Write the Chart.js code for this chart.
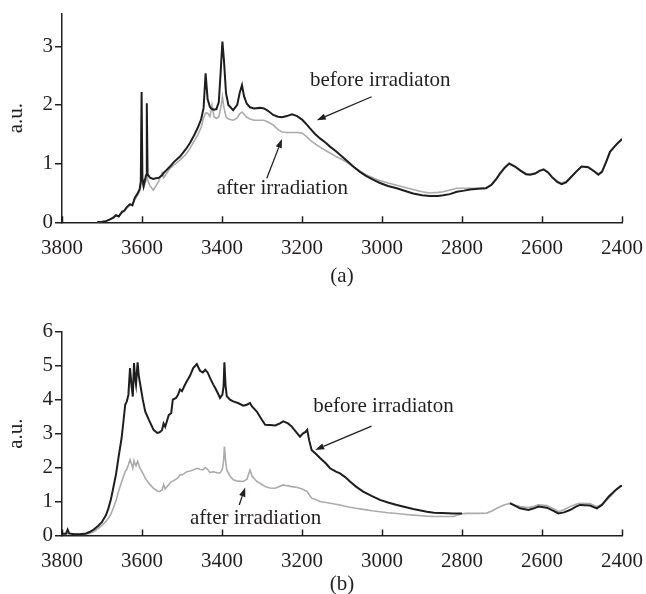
<!DOCTYPE html>
<html><head><meta charset="utf-8">
<script src="https://cdn.jsdelivr.net/npm/chart.js@4"></script>
<style>
html,body{margin:0;padding:0;background:#fff;overflow:hidden;width:646px;height:594px;}
canvas{position:absolute;left:0;}
#chartA{top:0;}
#chartB{top:297px;}
</style></head><body>
<canvas id="chartA" width="646" height="297"></canvas>
<canvas id="chartB" width="646" height="310"></canvas>
<script>
// ---- data ----
const xTicks = [3800,3600,3400,3200,3000,2800,2600,2400];
const yTicksA = [0,1,2,3];
const yTicksB = [0,1,2,3,4,5,6];
const seriesNames = ['before irradiaton','after irradiation'];
const panelLabels = ['(a)','(b)'];
const yTitle = 'a.u.';

const waveA = [
3712,3700,3690,3680,3672,3665,3658,3650,3644,3638,
3630,3624,3618,3612,3606,3603,3601,3599,3596,3590,
3588,3586,3580,3572,3565,3558,3550,3546,3540,3530,
3520,3505,3490,3480,3470,3460,3452,3446,3441,3436,
3430,3425,3420,3414,3408,3403,3399,3395,3390,3384,
3372,3362,3356,3350,3345,3338,3330,3320,3305,3295,
3285,3272,3260,3250,3238,3225,3212,3200,3190,3180,
3168,3155,3140,3130,3115,3100,3085,3072,3055,3040,
3020,3005,2985,2963,2940,2922,2900,2880,2860,2847,
2830,2813,2795,2780,2760,2740,2726,2715,2705,2693,
2682,2668,2654,2640,2630,2617,2605,2596,2585,2575,
2562,2551,2540,2530,2515,2501,2485,2470,2459,2450,
2440,2430,2415,2400];
const beforeA = [
0.00,0.01,0.02,0.05,0.08,0.12,0.10,0.18,0.20,0.26,
0.31,0.29,0.42,0.48,0.56,0.70,2.22,0.75,0.62,0.80,
2.03,0.82,0.76,0.74,0.75,0.76,0.80,0.84,0.88,0.95,
1.03,1.12,1.25,1.35,1.48,1.62,1.76,1.95,2.54,2.10,
1.96,1.93,1.92,1.93,2.05,2.60,3.08,2.75,2.20,2.00,
1.91,2.00,2.20,2.34,2.15,2.02,1.96,1.94,1.95,1.94,
1.90,1.83,1.80,1.79,1.81,1.84,1.81,1.75,1.68,1.60,
1.51,1.43,1.35,1.29,1.21,1.12,1.03,0.95,0.86,0.79,
0.72,0.67,0.62,0.58,0.53,0.49,0.46,0.45,0.45,0.46,
0.48,0.52,0.54,0.56,0.57,0.58,0.64,0.73,0.83,0.93,
1.00,0.95,0.88,0.82,0.81,0.83,0.88,0.90,0.85,0.77,
0.69,0.65,0.68,0.75,0.86,0.95,0.94,0.87,0.81,0.86,
1.02,1.20,1.32,1.42];
const afterA = [
0.00,0.01,0.02,0.05,0.07,0.11,0.11,0.16,0.19,0.24,
0.29,0.30,0.38,0.45,0.53,0.62,1.75,0.68,0.58,0.72,
0.95,0.72,0.62,0.55,0.62,0.70,0.84,0.76,0.82,0.92,
0.98,1.06,1.16,1.26,1.38,1.50,1.62,1.78,1.86,1.86,
1.80,2.00,1.80,1.77,1.80,1.95,2.14,1.95,1.80,1.76,
1.74,1.78,1.85,1.88,1.84,1.79,1.76,1.74,1.74,1.74,
1.71,1.66,1.58,1.54,1.53,1.53,1.53,1.52,1.47,1.40,
1.34,1.28,1.22,1.18,1.12,1.07,1.01,0.95,0.87,0.81,
0.75,0.71,0.67,0.63,0.59,0.56,0.52,0.50,0.51,0.52,
0.55,0.58,0.58,0.58,0.58,0.59,0.65,0.74,0.84,0.94,
1.01,0.96,0.89,0.83,0.82,0.84,0.88,0.91,0.86,0.78,
0.70,0.67,0.70,0.76,0.86,0.95,0.95,0.88,0.83,0.87,
1.03,1.20,1.32,1.42];

const waveB = [
3800,3790,3786,3782,3770,3755,3740,3730,3720,3710,
3700,3690,3684,3678,3672,3665,3659,3651,3646,3642,
3638,3634,3630,3626,3623,3620,3617,3615,3611,3608,
3605,3598,3592,3583,3571,3562,3556,3550,3546,3542,
3533,3527,3523,3515,3510,3505,3500,3495,3488,3480,
3472,3463,3455,3448,3442,3436,3430,3422,3417,3410,
3405,3399,3396,3394,3391,3388,3380,3372,3360,3347,
3338,3330,3325,3313,3300,3292,3280,3267,3255,3247,
3235,3226,3215,3205,3198,3191,3187,3182,3176,3165,
3155,3140,3130,3115,3105,3092,3080,3065,3047,3025,
3005,2985,2963,2940,2922,2900,2888,2870,2850,2822,
2800,2790,2763,2738,2725,2713,2695,2680,2668,2655,
2634,2620,2609,2588,2570,2559,2545,2530,2515,2505,
2480,2463,2450,2433,2415,2405,2400];
const beforeB = [
0.05,0.05,0.17,0.06,0.04,0.04,0.06,0.11,0.18,0.28,
0.40,0.60,0.80,1.05,1.39,1.80,2.28,2.87,3.40,3.85,
3.95,4.14,4.93,4.40,4.09,5.08,4.60,4.44,5.10,4.70,
4.49,4.00,3.65,3.41,3.11,3.02,3.04,3.10,3.30,3.20,
3.55,3.60,4.00,4.05,4.14,4.30,4.25,4.38,4.54,4.70,
4.93,5.05,4.85,4.80,4.88,4.80,4.64,4.45,4.34,4.18,
4.05,4.15,4.40,5.10,4.40,4.10,4.00,3.95,3.90,3.82,
3.85,3.90,3.80,3.65,3.40,3.26,3.25,3.24,3.30,3.36,
3.30,3.21,3.05,2.91,3.00,3.05,3.11,2.80,2.52,2.40,
2.28,2.12,1.98,1.88,1.83,1.72,1.59,1.44,1.29,1.16,
1.05,0.97,0.90,0.83,0.78,0.73,0.70,0.67,0.66,0.65,
0.65,null,null,null,null,null,null,0.95,0.88,0.80,
0.75,0.80,0.85,0.82,0.72,0.65,0.68,0.75,0.85,0.90,
0.88,0.80,0.90,1.15,1.35,1.44,1.47];
const afterB = [
0.05,0.05,0.05,0.05,0.04,0.03,0.04,0.07,0.12,0.20,
0.30,0.42,0.51,0.62,0.80,1.02,1.29,1.58,1.75,1.88,
1.95,2.08,2.23,2.10,1.98,2.20,2.10,2.05,2.18,2.08,
1.98,1.84,1.69,1.54,1.39,1.31,1.29,1.34,1.50,1.37,
1.50,1.58,1.60,1.66,1.70,1.78,1.78,1.82,1.88,1.90,
1.93,1.98,1.95,1.93,2.00,1.95,1.85,1.88,1.86,1.84,
1.84,1.95,2.20,2.62,2.20,1.93,1.75,1.64,1.60,1.59,
1.65,1.93,1.75,1.59,1.50,1.44,1.40,1.39,1.45,1.49,
1.46,1.44,1.42,1.39,1.36,1.32,1.29,1.20,1.10,1.05,
1.00,0.97,0.95,0.92,0.90,0.86,0.83,0.80,0.77,0.73,
0.70,0.67,0.65,0.62,0.60,0.58,0.57,0.56,0.56,0.56,
0.64,0.65,0.65,0.66,0.72,0.80,0.90,0.95,0.90,0.85,
0.82,0.86,0.90,0.88,0.78,0.70,0.76,0.85,0.92,0.95,
0.94,0.85,0.92,1.10,1.33,1.44,1.47];

// annotation anchors in data units (text baseline-left, arrow tail -> head)
const notesA = [
  {text: seriesNames[0], x: 3180, y: 2.32, tail: [3026, 2.14], head: [3163, 1.74]},
  {text: seriesNames[1], x: 3413, y: 0.49, tail: [3288, 0.75], head: [3250, 1.42]}
];
const notesB = [
  {text: seriesNames[0], x: 3172, y: 3.64, tail: [3026, 3.22], head: [3167, 2.52]},
  {text: seriesNames[1], x: 3480, y: 0.34, tail: [3357, 0.90], head: [3342, 1.41]}
];

// ---- styling ----
const INK = '#231f20';
const FONT = '"Liberation Serif", "Times New Roman", serif';

function pts(w, v){ return w.map((x,i)=>({x:x, y:v[i]})); }

const decor = {
  id: 'decor',
  afterDatasetsDraw(chart, args, opts){
    const ctx = chart.ctx, xs = chart.scales.x, ys = chart.scales.y;
    const bottom = chart.chartArea.bottom;
    ctx.save();
    ctx.strokeStyle = INK; ctx.lineWidth = 1.5;
    xs.ticks.forEach(t=>{
      const px = Math.round(xs.getPixelForValue(t.value)) + 0.5;
      ctx.beginPath(); ctx.moveTo(px, bottom); ctx.lineTo(px, bottom - 6); ctx.stroke();
    });
    ctx.fillStyle = INK;
    ctx.font = '21px ' + FONT;
    ctx.textAlign = 'left'; ctx.textBaseline = 'alphabetic';
    (opts.notes||[]).forEach(n=>{
      ctx.fillText(n.text, xs.getPixelForValue(n.x), ys.getPixelForValue(n.y));
      const x0 = xs.getPixelForValue(n.tail[0]), y0 = ys.getPixelForValue(n.tail[1]);
      const x1 = xs.getPixelForValue(n.head[0]), y1 = ys.getPixelForValue(n.head[1]);
      const ang = Math.atan2(y1-y0, x1-x0), L = 9, W = 3.2;
      const bx = x1 - L*Math.cos(ang), by = y1 - L*Math.sin(ang);
      ctx.lineWidth = 1.3;
      ctx.beginPath(); ctx.moveTo(x0,y0); ctx.lineTo(bx,by); ctx.stroke();
      ctx.beginPath();
      ctx.moveTo(x1,y1);
      ctx.lineTo(bx + W*Math.sin(ang), by - W*Math.cos(ang));
      ctx.lineTo(bx - W*Math.sin(ang), by + W*Math.cos(ang));
      ctx.closePath(); ctx.fill();
    });
    ctx.restore();
  }
};

function makeChart(id, wave, before, after, yTicks, yMax, plotTop, plotBottom, canvasH, notes, label, titlePad){
  return new Chart(document.getElementById(id), {
    type: 'line',
    data: {
      datasets: [
        {label: seriesNames[0], data: pts(wave, before), borderColor: '#1e1e1e', borderWidth: 2, pointRadius: 0, tension: 0, spanGaps: false},
        {label: seriesNames[1], data: pts(wave, after), borderColor: '#ababab', borderWidth: 1.6, pointRadius: 0, tension: 0, spanGaps: false}
      ]
    },
    options: {
      responsive: false, animation: false, events: [],
      layout: {padding: {left: 0, right: 24, top: plotTop, bottom: 0}},
      plugins: {legend: {display: false}, tooltip: {enabled: false}, decor: {notes: notes}},
      scales: {
        x: {
          type: 'linear', reverse: true, min: 2400, max: 3800,
          afterBuildTicks: s => { s.ticks = xTicks.map(v=>({value:v})); },
          afterFit: s => { s.height = canvasH - plotBottom; s.paddingLeft = 0; s.paddingRight = 0; },
          grid: {drawOnChartArea: false, drawTicks: false},
          border: {display: true, color: INK, width: 1.5},
          ticks: {color: INK, font: {family: FONT, size: 21}, padding: 13.6, maxRotation: 0, autoSkip: false,
                  callback: v => String(v)},
          title: {display: true, text: label, color: INK, font: {family: FONT, size: 21}, padding: {top: 0, bottom: titlePad}}
        },
        y: {
          min: 0, max: yMax,
          afterBuildTicks: s => { s.ticks = yTicks.map(v=>({value:v})); },
          afterFit: s => { s.width = 62; s.paddingTop = 0; s.paddingBottom = 0; },
          grid: {drawOnChartArea: false, drawTicks: true, tickLength: 7, color: INK, lineWidth: 1.5},
          border: {display: true, color: INK, width: 1.5},
          ticks: {color: INK, font: {family: FONT, size: 21}, padding: 2, callback: v => String(v)},
          title: {display: true, text: yTitle, color: INK, font: {family: FONT, size: 21}, padding: {top: 3.5, bottom: 0}}
        }
      }
    },
    plugins: [decor]
  });
}

makeChart('chartA', waveA, beforeA, afterA, yTicksA, 3.55, 14, 222.3, 297, notesA, panelLabels[0], 7.7);
makeChart('chartB', waveB, beforeB, afterB, yTicksB, 6, 34.7, 238.5, 310, notesB, panelLabels[1], 10.4);
</script>
</body></html>
